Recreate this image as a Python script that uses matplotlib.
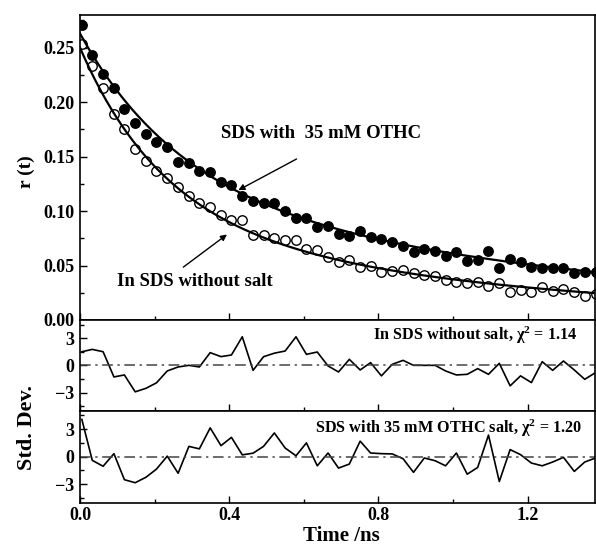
import numpy as np
import matplotlib
matplotlib.use("Agg")
import matplotlib.pyplot as plt
from matplotlib.ticker import MultipleLocator

plt.rcParams['font.family'] = ['Liberation Serif', 'DejaVu Serif']
plt.rcParams['font.weight'] = 'bold'
plt.rcParams['mathtext.fontset'] = 'custom'
plt.rcParams['mathtext.rm'] = 'Liberation Serif:bold'
plt.rcParams['mathtext.it'] = 'Liberation Serif:bold:italic'

# time grid (ns)
time = [0.005, 0.033, 0.062, 0.091, 0.119, 0.148, 0.177, 0.205, 0.234, 0.263,
        0.292, 0.320, 0.349, 0.378, 0.406, 0.435, 0.464, 0.492, 0.521, 0.550,
        0.579, 0.607, 0.636, 0.665, 0.693, 0.722, 0.751, 0.779, 0.808, 0.837,
        0.866, 0.894, 0.923, 0.952, 0.980, 1.009, 1.038, 1.066, 1.095, 1.124,
        1.153, 1.181, 1.210, 1.239, 1.267, 1.296, 1.325, 1.353, 1.382]

# anisotropy, SDS with 35 mM OTHC (filled)
r_othc = [0.271, 0.243, 0.226, 0.213, 0.194, 0.181, 0.171, 0.163, 0.159, 0.145,
          0.144, 0.137, 0.136, 0.127, 0.124, 0.114, 0.109, 0.107, 0.107, 0.100,
          0.094, 0.094, 0.085, 0.086, 0.079, 0.0775, 0.082, 0.076, 0.074, 0.072,
          0.068, 0.0625, 0.065, 0.063, 0.0585, 0.062, 0.054, 0.055, 0.063, 0.048,
          0.056, 0.053, 0.049, 0.0476, 0.0476, 0.048, 0.043, 0.0445, 0.044]

# anisotropy, SDS without salt (open)
r_nosalt = [0.253, 0.233, 0.213, 0.189, 0.175, 0.157, 0.146, 0.137, 0.130, 0.122,
            0.114, 0.107, 0.104, 0.0967, 0.092, 0.0915, 0.078, 0.078, 0.0757, 0.073,
            0.073, 0.0656, 0.064, 0.0574, 0.0528, 0.055, 0.049, 0.050, 0.044, 0.045,
            0.0457, 0.0427, 0.041, 0.040, 0.0366, 0.0348, 0.0336, 0.0345, 0.0314, 0.0336,
            0.026, 0.0274, 0.0253, 0.030, 0.0268, 0.028, 0.026, 0.022, 0.024]

# bi-exponential fit parameters: (a1, tau1, a2, tau2)
fit_othc = (0.138, 0.263, 0.125, 1.30)
fit_nosalt = (0.153, 0.220, 0.097, 1.00)

# residuals (std. dev.)
res_nosalt = [1.5, 1.76, 1.5, -1.28, -1.06, -2.92, -2.53, -1.93, -0.62, -0.18,
              0.0, -0.18, 1.4, 0.96, 1.14, 3.15, -0.55, 0.95, 1.34, 1.58,
              3.15, 1.21, 1.47, -0.07, -0.73, 0.66, -0.51, 0.30, -1.16, 0.11,
              0.55, 0.0, 0.0, 0.0, -0.62, -1.06, -0.99, -0.36, -0.99, 0.22,
              -2.26, -1.16, -1.9, 0.4, -0.55, 0.48, -0.51, -1.54, -0.8]
res_othc = [4.05, -0.4, -1.04, 0.33, -2.5, -2.83, -2.23, -1.35, 0.06, -1.8,
            1.12, 0.85, 3.13, 1.2, 2.1, 0.2, 0.38, 1.12, 2.58, 0.94,
            0.1, 1.5, -0.99, 0.4, -1.24, -0.8, 1.69, 0.4, 0.33, 0.3,
            -0.22, -1.7, -0.14, -0.44, -0.99, 0.4, -1.9, -1.17, 2.35, -2.7,
            0.77, 0.22, -0.69, -0.99, -0.58, -0.07, -1.6, -0.58, -0.14]


def biexp(t, p):
    a1, t1, a2, t2 = p
    return a1 * np.exp(-t / t1) + a2 * np.exp(-t / t2)


fig = plt.figure(figsize=(5.96, 5.47), dpi=100)
ax1 = fig.add_axes([0.1342, 0.415, 0.8638, 0.5576])
ax2 = fig.add_axes([0.1342, 0.2492, 0.8638, 0.1658])
ax3 = fig.add_axes([0.1342, 0.0810, 0.8638, 0.1682])

tt = np.linspace(0, 1.40, 300)
ax1.plot(tt, biexp(tt, fit_othc), color='black', lw=1.6, zorder=3)
ax1.plot(tt, biexp(tt, fit_nosalt), color='black', lw=1.6, zorder=3)
ax1.plot(time, r_othc, 'o', ms=6.8, color='black', zorder=4)
ax1.plot(time, r_nosalt, 'o', ms=6.8, mfc='white', mec='black', mew=1.0, zorder=2)

ax1.set_xlim(0, 1.38)
ax1.set_ylim(0, 0.28)
ax1.yaxis.set_minor_locator(MultipleLocator(0.025))
ax1.set_yticks([0, 0.05, 0.10, 0.15, 0.20, 0.25])
ax1.set_yticklabels(['0.00', '0.05', '0.10', '0.15', '0.20', '0.25'])

arrow = dict(arrowstyle='-|>', color='black', lw=1.0, mutation_scale=9)
ax1.annotate('', xy=(0.418, 0.118), xytext=(0.587, 0.149), arrowprops=arrow)
ax1.annotate('', xy=(0.400, 0.080), xytext=(0.271, 0.047), arrowprops=arrow)
ax1.text(0.379, 0.171, 'SDS with  35 mM OTHC', fontsize=13.5, fontweight='bold',
         va='center', ha='left')
ax1.text(0.098, 0.035, 'In SDS without salt', fontsize=13.5, fontweight='bold',
         va='center', ha='left')

for ax, res in ((ax2, res_nosalt), (ax3, res_othc)):
    ax.plot(time, res, color='black', lw=1.2)
    ax.axhline(0, color='#444444', lw=1.1, ls='-.', dashes=(7, 3, 1.5, 3))
    ax.set_xlim(0, 1.38)
    ax.set_ylim(-5, 5)
    ax.set_yticks([-3, 0, 3])
    ax.yaxis.set_minor_locator(MultipleLocator(1.5))

ax2.text(1.333, 3.3, 'In SDS without salt, χ$^2$ = 1.14', fontsize=11.7,
         ha='right', va='center')
ax3.text(1.347, 3.1, 'SDS with 35 mM OTHC salt, χ$^2$ = 1.20', fontsize=11.7,
         ha='right', va='center')

for ax in (ax1, ax2, ax3):
    ax.xaxis.set_major_locator(MultipleLocator(0.4))
    ax.xaxis.set_minor_locator(MultipleLocator(0.2))
    ax.tick_params(which='both', direction='in', top=False, right=False,
                   labelsize=13, width=1.0, pad=4)
    ax.tick_params(which='major', length=5)
    ax.tick_params(which='minor', length=3)
    for s in ax.spines.values():
        s.set_linewidth(1.2)

ax1.tick_params(axis='x', labelbottom=False)
ax2.tick_params(axis='x', labelbottom=False)
ax3.set_xticks([0.0, 0.4, 0.8, 1.2])
ax3.set_xticklabels(['0.0', '0.4', '0.8', '1.2'])
ax3.tick_params(axis='x', pad=3)

for lab in ax1.get_yticklabels() + ax2.get_yticklabels() + ax3.get_yticklabels() + ax3.get_xticklabels():
    lab.set_fontweight('bold')

fig.text(0.0436, 0.686, 'r (t)', rotation=90, fontsize=14, fontweight='bold',
         ha='center', va='center')
fig.text(0.046, 0.218, 'Std. Dev.', rotation=90, fontsize=16, fontweight='bold',
         ha='center', va='center')
fig.text(0.572, 0.020, 'Time /ns', fontsize=15, fontweight='bold',
         ha='center', va='center')

fig.savefig('out.png', dpi=100)
